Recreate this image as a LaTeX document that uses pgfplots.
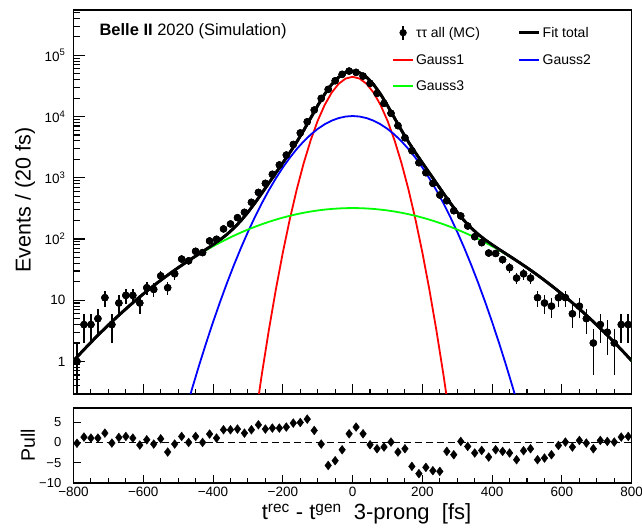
\documentclass[border=0pt]{standalone}
\usepackage{pgfplots}
\pgfplotsset{compat=1.18}
\usepackage{pgfplotstable}
\usepackage{fontspec}
\setmainfont{Liberation Sans}
\definecolor{rootred}{RGB}{255,0,0}
\definecolor{rootblue}{RGB}{0,0,255}
\definecolor{rootgreen}{RGB}{0,255,0}

\pgfplotstableread{
x y ep em
-790 1 1 0.99
-770 4 2 2
-750 4 2 2
-730 5 2.24 2.24
-710 11 3.32 3.32
-690 4 2 2
-670 9 3 3
-650 12 3.46 3.46
-630 12 3.46 3.46
-610 9 3 3
-590 16 4 4
-570 15 3.87 3.87
-550 25 5 5
-530 16 4 4
-510 27 5.2 5.2
-490 47 6.86 6.86
-470 44 6.63 6.63
-450 63 7.94 7.94
-430 60 7.75 7.75
-410 93 9.64 9.64
-390 99 9.95 9.95
-370 146 12.1 12.1
-350 176 13.3 13.3
-330 223 14.9 14.9
-310 273 16.5 16.5
-290 398 20 20
-270 577 24 24
-250 811 28.5 28.5
-230 1140 33.8 33.8
-210 1620 40.2 40.2
-190 2350 48.5 48.5
-170 3500 59.2 59.2
-150 5400 73.5 73.5
-130 8220 90.7 90.7
-110 12770 113 113
-90 19800 141 141
-70 27800 167 167
-50 38400 196 196
-30 48900 221 221
-10 55300 235 235
10 52700 230 230
30 45800 214 214
50 34800 187 187
70 23900 155 155
90 16400 128 128
110 11300 106 106
130 7100 84 84
150 4500 67 67
170 2770 52.6 52.6
190 1760 42 42
210 1210 34.8 34.8
230 811 28.5 28.5
250 522 22.8 22.8
270 422 20.5 20.5
290 290 17 17
310 238 15.4 15.4
330 163 12.8 12.8
350 109 10.4 10.4
370 87 9.3 9.3
390 59 7.7 7.7
410 58 7.6 7.6
430 46 6.8 6.8
450 34 5.83 5.83
470 23 4.8 4.8
490 27 5.2 5.2
510 23 4.8 4.8
530 11 3.32 3.32
550 9 3 3
570 8 2.83 2.83
590 11 3.32 3.32
610 11 3.32 3.32
630 6 2.45 2.45
650 8 2.83 2.83
670 5 2.24 2.24
690 2 1.41 1.41
710 4 2 2
730 3 1.73 1.73
750 2 1.41 1.41
770 4 2 2
790 4 2 2
}\datatab

\pgfplotstableread{
x p
-790 -0.2
-770 1.33
-750 1.08
-730 1.08
-710 2.3
-690 -0.15
-670 1.23
-650 1.48
-630 1.08
-610 -0.64
-590 0.66
-570 -0.4
-550 0.9
-530 -2.37
-510 -0.4
-490 1.48
-470 0
-450 1.48
-430 0
-410 2.07
-390 1.08
-370 3.13
-350 3.13
-330 3.3
-310 2.3
-290 3.13
-270 4.36
-250 3.3
-230 3.55
-210 3.55
-190 3.8
-170 4.78
-150 4.93
-130 5.76
-110 2.96
-90 -0.4
-70 -5.67
-50 -4.5
-30 -1.8
-10 2.14
10 3.8
30 2.14
50 -0.57
70 -1.55
90 -1.13
110 0.1
130 -2.37
150 -1.55
170 -5.9
190 -7.7
210 -6.15
230 -6.97
250 -7.14
270 -2.2
290 -3.03
310 0.25
330 -0.98
350 -2.6
370 -1.97
390 -3.6
410 -1.8
430 -2.2
450 -2.6
470 -4.26
490 -2.04
510 -1.55
530 -4.26
550 -3.85
570 -3.03
590 -0.74
610 0.1
630 -1.13
650 0.49
670 -0.15
690 -1.55
710 0.49
730 0.25
750 0.1
770 1.33
790 1.48
}\pulltab

\pgfplotstableread{
x y
-300 0.01545
-280 0.1051
-260 0.626
-240 3.27
-220 14.96
-200 59.98
-180 210.6
-160 648
-140 1747
-120 4126
-100 8542
-80 15480
-60 24600
-40 34230
-20 41740
0 44600
20 41740
40 34230
60 24600
80 15480
100 8542
120 4126
140 1747
160 648
180 210.6
200 59.98
220 14.96
240 3.27
260 0.626
280 0.1051
300 0.01545
}\gonetab

\pgfplotstableread{
x y
-500 0.05622
-480 0.1452
-460 0.3610
-440 0.8633
-420 1.986
-400 4.395
-380 9.356
-360 19.16
-340 37.76
-320 71.55
-300 130.5
-280 228.8
-260 385.9
-240 626.6
-220 978.3
-200 1470
-180 2123
-160 2952
-140 3948
-120 5078
-100 6284
-80 7480
-60 8569
-40 9440
-20 10004
0 10200
20 10004
40 9440
60 8569
80 7480
100 6284
120 5078
140 3948
160 2952
180 2123
200 1470
220 978.3
240 626.6
260 385.9
280 228.8
300 130.5
320 71.55
340 37.76
360 19.16
380 9.356
400 4.395
420 1.986
440 0.8633
460 0.3610
480 0.1452
500 0.05622
}\gtwotab

\pgfplotstableread{
x y
-800 1.023
-780 1.359
-760 1.791
-740 2.345
-720 3.048
-700 3.933
-680 5.039
-660 6.411
-640 8.094
-620 10.15
-600 12.64
-580 15.62
-560 19.16
-540 23.35
-520 28.24
-500 33.92
-480 40.45
-460 47.87
-440 56.28
-420 65.69
-400 76.09
-380 87.53
-360 99.97
-340 113.4
-320 127.6
-300 142.7
-280 158.3
-260 174.4
-240 190.8
-220 207.2
-200 223.5
-180 239.2
-160 254.3
-140 268.4
-120 281.2
-100 292.5
-80 302.1
-60 309.8
-40 315.4
-20 318.9
0 320
20 318.9
40 315.4
60 309.8
80 302.1
100 292.5
120 281.2
140 268.4
160 254.3
180 239.2
200 223.5
220 207.2
240 190.8
260 174.4
280 158.3
300 142.7
320 127.6
340 113.4
360 99.97
380 87.53
400 76.09
420 65.69
440 56.28
460 47.87
480 40.45
500 33.92
520 28.24
540 23.35
560 19.16
580 15.62
600 12.64
620 10.15
640 8.094
660 6.411
680 5.039
700 3.933
720 3.048
740 2.345
760 1.791
780 1.359
800 1.023
}\gthreetab

\pgfplotstableread{
x y
-800 1.023
-780 1.359
-760 1.791
-740 2.345
-720 3.048
-700 3.933
-680 5.039
-660 6.411
-640 8.094
-620 10.15
-600 12.64
-580 15.62
-560 19.16
-540 23.35
-520 28.26
-500 33.98
-480 40.6
-460 48.23
-440 57.14
-420 67.68
-400 80.48
-380 96.89
-360 119.1
-340 151.2
-320 199.1
-300 273.1
-280 387.2
-260 561.0
-240 820.7
-220 1200.5
-200 1753.5
-180 2573
-160 3854
-140 5962
-120 9485
-100 15119
-80 23263
-60 33477
-40 43985
-20 52063
0 55120
20 52063
40 43985
60 33477
80 23263
100 15119
120 9485
140 5962
160 3854
180 2573
200 1753.5
220 1200.5
240 820.7
260 561.0
280 387.2
300 273.1
320 199.1
340 151.2
360 119.1
380 96.89
400 80.48
420 67.68
440 57.14
460 48.23
480 40.6
500 33.98
520 28.26
540 23.35
560 19.16
580 15.62
600 12.64
620 10.15
640 8.094
660 6.411
680 5.039
700 3.933
720 3.048
740 2.345
760 1.791
780 1.359
800 1.023
}\totaltab

\begin{document}
\begin{tikzpicture}
\useasboundingbox (0,0) rectangle (642pt,527pt);
\begin{axis}[
  at={(73.5pt,133pt)}, anchor=south west,
  scale only axis, width=558.2pt, height=384pt,
  xmin=-800, xmax=800,
  ymode=log, ymin=0.294, ymax=5.5e5,
  axis line style={line width=1.5pt},
  tick align=inside, tick pos=left,
  every tick/.style={black, line width=1.1pt},
  xtick={-800,-600,...,800}, minor x tick num=3,
  xticklabel=\empty,
  major tick length=10pt, minor tick length=5pt,
  ytick style={/pgfplots/major tick length=11pt, /pgfplots/minor tick length=6pt},
  ytick={1,10,100,1000,10000,100000},
  yticklabels={1,10,10\textsuperscript{2},10\textsuperscript{3},10\textsuperscript{4},10\textsuperscript{5}},
  minor ytick={0.3,0.4,0.5,0.6,0.7,0.8,0.9,2,3,4,5,6,7,8,9,20,30,40,50,60,70,80,90,200,300,400,500,600,700,800,900,2000,3000,4000,5000,6000,7000,8000,9000,20000,30000,40000,50000,60000,70000,80000,90000,200000,300000,400000,500000},
  yticklabel style={font=\fontsize{13.5}{15}\selectfont, inner sep=0pt, xshift=-8pt},
  ylabel={Events / (20 fs)},
  ylabel style={at={(axis description cs:-0.0869,0.505)}, anchor=center, font=\fontsize{21.5}{24}\selectfont},
  legend columns=2,
  legend image code/.code={\draw[#1] (0pt,0pt) -- (20pt,0pt);},
  legend style={draw=none, fill=none, at={(axis description cs:0.5652,0.967)}, anchor=north west,
    font=\fontsize{14}{16}\selectfont, row sep=12pt,
    /tikz/every even column/.append style={column sep=36pt}},
  legend cell align=left,
]
\addplot[black, only marks, mark=*, mark size=3.5pt,
  legend image code/.code={\draw[black, line width=1.5pt] (10pt,-7pt) -- (10pt,7pt); \fill[black] (10pt,0pt) circle[radius=3.4pt];},
  error bars/.cd, y dir=both, y explicit, error mark=none,
  error bar style={line width=1.5pt, black}]
  table[x=x, y=y, y error plus=ep, y error minus=em] {\datatab};
\addlegendentry{ττ all (MC)}
\addplot[black, line width=2.8pt] table[x=x, y=y] {\totaltab};
\addlegendentry{Fit total}
\addplot[rootred, line width=1.8pt] table[x=x, y=y] {\gonetab};
\addlegendentry{Gauss1}
\addplot[rootblue, line width=1.8pt] table[x=x, y=y] {\gtwotab};
\addlegendentry{Gauss2}
\addplot[rootgreen, line width=1.8pt, forget plot] table[x=x, y=y] {\gthreetab};
\addplot[black, line width=2.8pt, forget plot] table[x=x, y=y] {\totaltab};
\addplot[black, only marks, mark=*, mark size=3.5pt, forget plot,
  error bars/.cd, y dir=both, y explicit, error mark=none,
  error bar style={line width=1.5pt, black}]
  table[x=x, y=y, y error plus=ep, y error minus=em] {\datatab};
\end{axis}

% second (invisible) axis over the top panel, holding only the Gauss3 legend entry
\begin{axis}[
  at={(73.5pt,133pt)}, anchor=south west,
  scale only axis, width=558.2pt, height=384pt,
  xmin=-800, xmax=800, ymin=0, ymax=1,
  hide axis,
  legend image code/.code={\draw[#1] (0pt,0pt) -- (20pt,0pt);},
  legend style={draw=none, fill=none, at={(axis description cs:0.5652,0.8021)}, anchor=west,
    font=\fontsize{14}{16}\selectfont},
  legend cell align=left,
]
\addlegendimage{rootgreen, line width=1.8pt}
\addlegendentry{Gauss3}
\end{axis}

\begin{axis}[
  at={(73.5pt,44pt)}, anchor=south west,
  scale only axis, width=558.2pt, height=75pt,
  xmin=-800, xmax=800, ymin=-10, ymax=8.5,
  axis line style={line width=1.5pt},
  tick align=inside, tick pos=left,
  every tick/.style={black, line width=1.1pt},
  xtick={-800,-600,...,800}, minor x tick num=3,
  xticklabels={−800,−600,−400,−200,0,200,400,600,800},
  major tick length=8pt, minor tick length=4.5pt,
  ytick={-10,-5,0,5}, yticklabels={−10,−5,0,5},
  ytick style={/pgfplots/major tick length=7pt},
  xticklabel style={font=\fontsize{13.5}{15}\selectfont, inner sep=0pt, yshift=-4pt},
  yticklabel style={font=\fontsize{13}{15}\selectfont, inner sep=0pt, xshift=-12pt},
  xlabel={t\textsuperscript{rec} - t\textsuperscript{gen}\ \ 3-prong\ \ [fs]},
  xlabel style={at={(axis description cs:0.525,0)}, anchor=base, yshift=-37pt, font=\fontsize{22}{24}\selectfont},
  ylabel={Pull},
  ylabel style={at={(axis description cs:-0.0815,0.5)}, anchor=center, font=\fontsize{19.5}{22}\selectfont},
]
\addplot[black, line width=1.5pt, dash pattern=on 7pt off 4pt] coordinates {(-800,0) (800,0)};
\addplot[black, only marks, mark=diamond*, mark size=4.4pt] table[x=x, y=p] {\pulltab};
\end{axis}

\node[anchor=base west, font=\fontsize{16.5}{18}\selectfont] at (96pt,491pt) {\textbf{Belle II} 2020 (Simulation)};
\end{tikzpicture}
\end{document}
